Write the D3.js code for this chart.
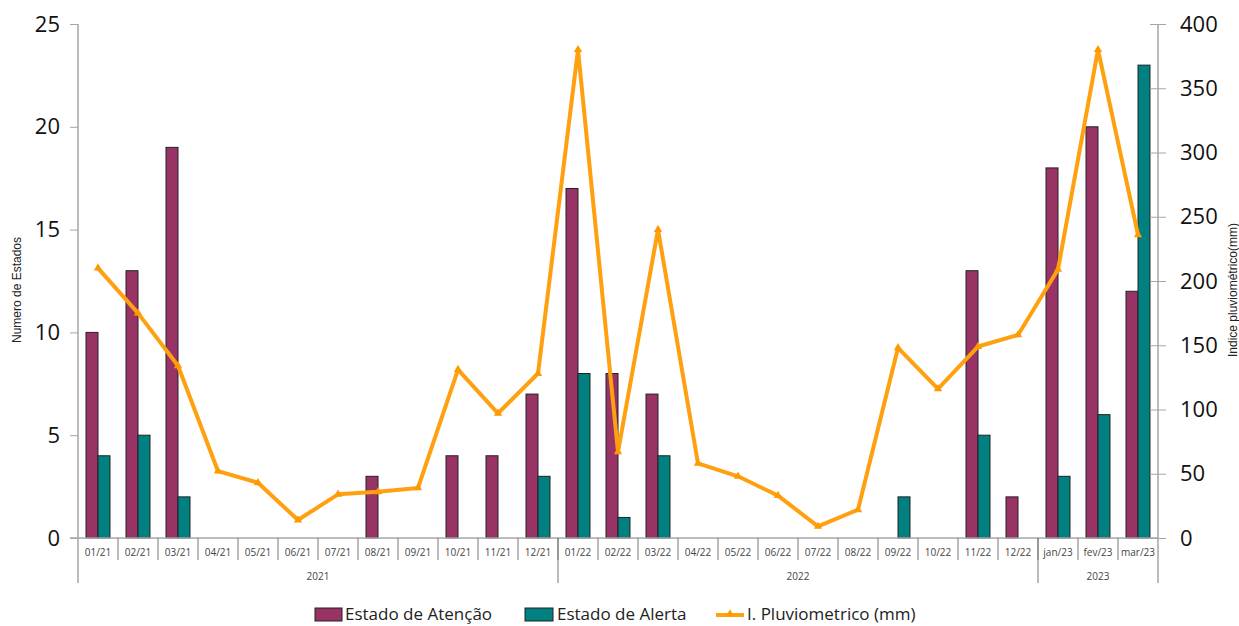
<!DOCTYPE html>
<html>
<head>
<meta charset="utf-8">
<script src="https://d3js.org/d3.v7.min.js"></script>
<style>
body { margin: 0; background: #fff; }
svg text { font-family: "Open Sans", "Liberation Sans", sans-serif; }
</style>
</head>
<body>
<div id="chart"></div>
<script>
// data
var months = ["01/21","02/21","03/21","04/21","05/21","06/21","07/21","08/21","09/21","10/21","11/21","12/21",
              "01/22","02/22","03/22","04/22","05/22","06/22","07/22","08/22","09/22","10/22","11/22","12/22",
              "jan/23","fev/23","mar/23"];
var atencao = [10,13,19,0,0,0,0,3,0,4,4,7, 17,8,7,0,0,0,0,0,0,0,13,2, 18,20,12];
var alerta  = [4,5,2,0,0,0,0,0,0,0,0,3, 8,1,4,0,0,0,0,0,2,0,5,0, 3,6,23];
var chuva   = [210,175,134,52,43,14,34,36,39,131,97,128, 380,67,240,58,48,33,9,22,148,116,149,158, 209,380,236];
var years = [{label:"2021", from:0, to:12}, {label:"2022", from:12, to:24}, {label:"2023", from:24, to:27}];
var yTicksL = [0,5,10,15,20,25];
var yTicksR = [0,50,100,150,200,250,300,350,400];

var W = 1239, H = 626;
var pLeft = 78, pRight = 1158, pTop = 24, pBottom = 538;

var svg = d3.select("#chart").append("svg")
  .attr("width", W).attr("height", H);

var x = d3.scaleBand().domain(months).range([pLeft, pRight]);
var xb = d3.scaleBand().domain(["at","al"]).range([0, 24]);
var yL = d3.scaleLinear().domain([0,25]).range([pBottom, pTop]);
var yR = d3.scaleLinear().domain([0,400]).range([pBottom, pTop]);

var axisCol = "#a6a6a6";

// bars
var g = svg.append("g");
months.forEach(function(m, i) {
  var x0 = x(m) + (x.bandwidth() - 24) / 2;
  if (atencao[i] > 0)
    g.append("rect").attr("x", x0 + xb("at")).attr("y", yL(atencao[i]))
      .attr("width", xb.bandwidth()).attr("height", pBottom - yL(atencao[i]))
      .attr("fill", "#993366").attr("stroke", "#222").attr("stroke-width", 1);
  if (alerta[i] > 0)
    g.append("rect").attr("x", x0 + xb("al")).attr("y", yL(alerta[i]))
      .attr("width", xb.bandwidth()).attr("height", pBottom - yL(alerta[i]))
      .attr("fill", "#008080").attr("stroke", "#222").attr("stroke-width", 1);
});

// left axis
var axL = svg.append("g").attr("transform", "translate(" + pLeft + ",0)")
  .call(d3.axisLeft(yL).tickValues(yTicksL).tickSize(8).tickPadding(10));
axL.select(".domain").remove();
axL.selectAll(".tick line").attr("stroke", axisCol).attr("x2", 0).attr("x1", -8);
axL.selectAll(".tick text").attr("font-size", 22).attr("fill", "#111")
  .style("font-family", "'Open Sans', sans-serif");
svg.append("line").attr("x1", pLeft).attr("x2", pLeft).attr("y1", pTop).attr("y2", 583)
  .attr("stroke", axisCol).attr("stroke-width", 1.5);

// right axis
var axR = svg.append("g").attr("transform", "translate(" + pRight + ",0)")
  .call(d3.axisRight(yR).tickValues(yTicksR).tickSize(8).tickPadding(14));
axR.select(".domain").remove();
axR.selectAll(".tick line").attr("stroke", axisCol).attr("x1", -8).attr("x2", 8);
axR.selectAll(".tick text").attr("font-size", 22).attr("fill", "#111")
  .style("font-family", "'Open Sans', sans-serif");
svg.append("line").attr("x1", pRight).attr("x2", pRight).attr("y1", pTop).attr("y2", 583)
  .attr("stroke", axisCol).attr("stroke-width", 1.5);

// bottom axis line
svg.append("line").attr("x1", pLeft - 8).attr("x2", pRight).attr("y1", pBottom).attr("y2", pBottom)
  .attr("stroke", axisCol).attr("stroke-width", 1.5);

// category separators and labels
months.forEach(function(m, i) {
  if (i > 0)
    svg.append("line").attr("x1", x(m)).attr("x2", x(m)).attr("y1", pBottom).attr("y2", 560)
      .attr("stroke", "#777").attr("stroke-width", 1);
  svg.append("text").attr("x", x(m) + x.bandwidth() / 2).attr("y", 556)
    .attr("text-anchor", "middle").attr("font-size", 10).attr("fill", "#444").text(m);
});
years.forEach(function(yr) {
  var xs = x(months[yr.from]);
  var xe = yr.to < months.length ? x(months[yr.to]) : pRight;
  if (yr.to < months.length)
    svg.append("line").attr("x1", xe).attr("x2", xe).attr("y1", pBottom).attr("y2", 583)
      .attr("stroke", "#777").attr("stroke-width", 1);
  svg.append("text").attr("x", (xs + xe) / 2).attr("y", 580)
    .attr("text-anchor", "middle").attr("font-size", 10).attr("fill", "#444").text(yr.label);
});

// rainfall line
var line = d3.line()
  .x(function(d, i) { return x(months[i]) + x.bandwidth() / 2; })
  .y(function(d) { return yR(d); });
svg.append("path").datum(chuva).attr("d", line)
  .attr("fill", "none").attr("stroke", "#ffa010").attr("stroke-width", 4)
  .attr("stroke-linejoin", "round");
svg.append("g").selectAll("path.mk").data(chuva).enter().append("path")
  .attr("transform", function(d, i) { return "translate(" + (x(months[i]) + x.bandwidth() / 2) + "," + yR(d) + ")"; })
  .attr("d", d3.symbol().type(d3.symbolTriangle).size(30))
  .attr("fill", "#ff9900");

// axis titles
svg.append("text").attr("transform", "translate(21,290) rotate(-90)")
  .attr("text-anchor", "middle").attr("font-size", 12).attr("fill", "#222")
  .style("font-family", "'Liberation Sans', Arial, sans-serif").text("Numero de Estados");
svg.append("text").attr("transform", "translate(1237,290) rotate(-90)")
  .attr("text-anchor", "middle").attr("font-size", 12).attr("fill", "#222")
  .style("font-family", "'Liberation Sans', Arial, sans-serif").text("Indice pluviométrico(mm)");

// legend
var lg = svg.append("g").attr("font-size", 17).attr("fill", "#222");
lg.append("rect").attr("x", 315).attr("y", 608).attr("width", 27).attr("height", 13)
  .attr("fill", "#993366").attr("stroke", "#222");
lg.append("text").attr("x", 345).attr("y", 620).text("Estado de Atenção");
lg.append("rect").attr("x", 525).attr("y", 608).attr("width", 28).attr("height", 13)
  .attr("fill", "#008080").attr("stroke", "#222");
lg.append("text").attr("x", 557).attr("y", 620).text("Estado de Alerta");
lg.append("line").attr("x1", 716).attr("x2", 744).attr("y1", 615).attr("y2", 615)
  .attr("stroke", "#ffa010").attr("stroke-width", 4);
lg.append("path").attr("transform", "translate(730,614)")
  .attr("d", d3.symbol().type(d3.symbolTriangle).size(30)).attr("fill", "#ff9900");
lg.append("text").attr("x", 747).attr("y", 620).text("I. Pluviometrico (mm)");
</script>
</body>
</html>
